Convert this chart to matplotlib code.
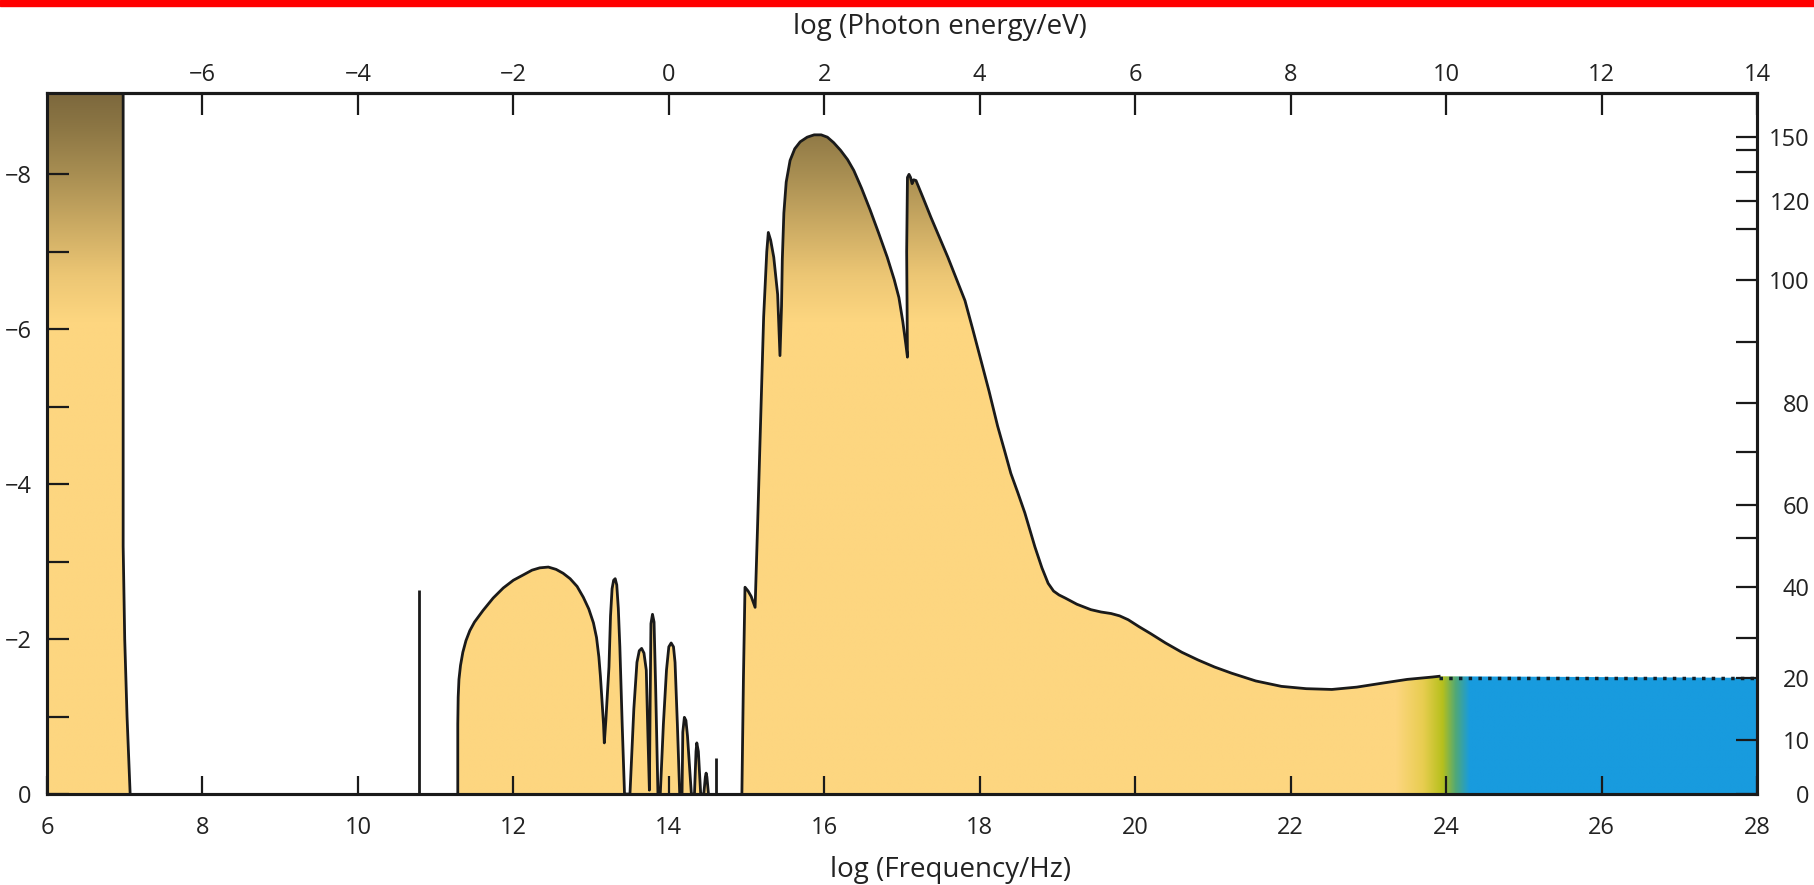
import numpy as np
import matplotlib
matplotlib.use('Agg')
import matplotlib.pyplot as plt
from matplotlib.path import Path
from matplotlib.patches import PathPatch, Rectangle

plt.rcParams['font.family'] = ['Open Sans', 'DejaVu Sans']

# low-frequency block (its right edge; left edge is the axis)
radio_x = [6.98, 6.98, 7.00, 7.03, 7.07]
radio_y = [9.6, 3.2, 2.0, 1.0, 0.0]

# broad hump + comb of narrow peaks
ir_x = [11.285, 11.285, 11.29, 11.30, 11.32, 11.35, 11.39, 11.44, 11.50, 11.61, 11.74, 11.87,
        12.00, 12.13, 12.24, 12.34, 12.45, 12.55, 12.64, 12.73, 12.82, 12.90, 12.97, 13.03,
        13.07, 13.10, 13.12, 13.14, 13.16, 13.17,
        13.19, 13.21, 13.23, 13.25, 13.27, 13.29, 13.31, 13.33, 13.35, 13.37, 13.40, 13.43,
        13.50, 13.55, 13.59, 13.62, 13.65, 13.68, 13.71, 13.73, 13.75,
        13.76, 13.77, 13.79, 13.81, 13.83, 13.86,
        13.89, 13.93, 13.97, 14.00, 14.03, 14.06, 14.08, 14.11, 14.14,
        14.17, 14.18, 14.20, 14.22, 14.24, 14.29,
        14.33, 14.35, 14.36, 14.38, 14.41,
        14.45, 14.47, 14.48, 14.49, 14.51]
ir_y = [0.00, 0.90, 1.25, 1.48, 1.66, 1.83, 1.98, 2.11, 2.22, 2.37, 2.53, 2.66,
        2.76, 2.83, 2.89, 2.92, 2.93, 2.90, 2.85, 2.78, 2.68, 2.54, 2.39, 2.21,
        2.02, 1.77, 1.52, 1.21, 0.90, 0.66,
        0.95, 1.30, 1.64, 2.30, 2.65, 2.76, 2.78, 2.70, 2.40, 1.90, 0.90, 0.00,
        0.00, 1.10, 1.70, 1.85, 1.88, 1.82, 1.60, 0.80, 0.05,
        1.20, 2.20, 2.32, 2.22, 1.40, 0.00,
        0.00, 0.90, 1.60, 1.90, 1.95, 1.90, 1.70, 0.90, 0.00,
        0.00, 0.80, 0.99, 0.95, 0.75, 0.00,
        0.00, 0.55, 0.66, 0.55, 0.00,
        0.00, 0.22, 0.27, 0.22, 0.00]

# uv / x-ray / gamma part
uv_x = [14.94, 14.96, 14.98, 15.02, 15.06, 15.11, 15.14, 15.17, 15.22, 15.26, 15.28, 15.31,
        15.35, 15.40, 15.43, 15.45, 15.46, 15.48, 15.51, 15.56, 15.62, 15.69, 15.78, 15.87,
        15.96, 16.04, 16.12, 16.21, 16.30, 16.38, 16.48, 16.59, 16.70, 16.81, 16.90, 16.96,
        17.01, 17.05, 17.07, 17.06, 17.07, 17.09, 17.11, 17.13, 17.15, 17.18, 17.27, 17.37,
        17.48, 17.59, 17.70, 17.81, 17.91, 18.01, 18.12, 18.23, 18.32, 18.40, 18.49, 18.58,
        18.71, 18.80, 18.88, 18.95, 19.02, 19.10, 19.25, 19.43, 19.56, 19.69, 19.80, 19.91,
        20.05, 20.20, 20.39, 20.60, 20.81, 21.02, 21.24, 21.55, 21.88, 22.20, 22.53, 22.85,
        23.17, 23.50, 23.82, 23.91]
uv_y = [0.00, 1.50, 2.67, 2.62, 2.55, 2.41, 3.40, 4.44, 6.16, 7.00, 7.25, 7.15,
        6.93, 6.45, 5.66, 6.30, 6.90, 7.50, 7.90, 8.18, 8.33, 8.42, 8.48, 8.51,
        8.51, 8.48, 8.41, 8.31, 8.19, 8.05, 7.82, 7.54, 7.24, 6.93, 6.64, 6.41,
        6.10, 5.80, 5.64, 7.00, 7.96, 8.00, 7.96, 7.88, 7.93, 7.92, 7.70, 7.45,
        7.19, 6.93, 6.65, 6.37, 6.00, 5.62, 5.20, 4.75, 4.43, 4.14, 3.89, 3.63,
        3.19, 2.92, 2.72, 2.62, 2.57, 2.53, 2.45, 2.38, 2.35, 2.33, 2.30, 2.25,
        2.16, 2.07, 1.95, 1.83, 1.73, 1.64, 1.56, 1.46, 1.39, 1.36, 1.35, 1.38,
        1.43, 1.48, 1.51, 1.52]

# isolated thin lines
spike_x = [10.78, 14.61]
spike_h = [2.63, 0.46]

gamma_level = 1.5

bottom_ticks = list(range(6, 29, 2))
top_ticks = list(range(-6, 15, 2))
left_ticks = [0, 2, 4, 6, 8]
left_minor = [1, 3, 5, 7]
left_labels = ['0', '\u22122', '\u22124', '\u22126', '\u22128']
# right-hand scale: value -> height in left-axis units
right_vals = [0, 10, 20, 30, 40, 50, 60, 70, 80, 90, 100, 110, 120, 130, 140, 150]
right_pos = [0.0, 0.70, 1.50, 2.01, 2.67, 3.30, 3.73, 4.41, 5.05, 5.83, 6.63, 7.30, 7.66, 8.03, 8.31, 8.48]
right_labeled = [0, 10, 20, 40, 60, 80, 100, 120, 150]

YTOP = 9.05
ink = '#1a1a1a'
txt = '#222222'

fig = plt.figure(figsize=(18.14, 8.85), dpi=100)
fig.add_artist(Rectangle((0, 1 - 6 / 885), 1, 6 / 885, transform=fig.transFigure,
                         color='#ff0000', zorder=0))
ax = fig.add_axes([0.0259, 0.1028, 0.9427, 0.7921])

# fill colours: brown at the top fading to yellow, yellow -> green -> blue at the gamma end
nx, ny = 1400, 600
xs = np.linspace(6, 28, nx)
ys = np.linspace(0, YTOP, ny)
v_stops = [0, 6.1, 6.7, 7.3, 8.0, 8.6, 9.1]
v_cols = np.array([[253, 214, 128], [253, 214, 128], [236, 198, 116], [205, 172, 100],
                   [168, 142, 82], [140, 118, 68], [122, 102, 60]]) / 255
h_stops = [6, 23.35, 23.7, 23.95, 24.12, 24.3, 28]
h_cols = np.array([[253, 214, 128], [253, 214, 128], [232, 205, 80], [182, 192, 28],
                   [80, 168, 120], [24, 155, 222], [24, 155, 222]]) / 255
vcol = np.stack([np.interp(ys, v_stops, v_cols[:, c]) for c in range(3)], axis=-1)
hcol = np.stack([np.interp(xs, h_stops, h_cols[:, c]) for c in range(3)], axis=-1)
img = np.where(xs[None, :, None] > 23.35, hcol[None, :, :], vcol[:, None, :])


def poly(pts):
    return Path(pts + [pts[0]], [Path.MOVETO] + [Path.LINETO] * (len(pts) - 1) + [Path.CLOSEPOLY])


p_radio = poly([(6, 0), (6, radio_y[0])] + list(zip(radio_x, radio_y)))
p_ir = poly([(ir_x[0], 0)] + list(zip(ir_x, ir_y)) + [(ir_x[-1], 0)])
p_uv = poly(list(zip(uv_x, uv_y)) + [(28, gamma_level), (28, 0)])
clip = PathPatch(Path.make_compound_path(p_radio, p_ir, p_uv), transform=ax.transData,
                 facecolor='none', edgecolor='none')
ax.add_patch(clip)
im = ax.imshow(img, extent=[6, 28, 0, YTOP], origin='lower', aspect='auto',
               interpolation='bilinear', zorder=1)
im.set_clip_path(clip)

lw = 2.0
ax.plot(radio_x, radio_y, color=ink, lw=lw, zorder=3)
ax.plot(ir_x, ir_y, color=ink, lw=lw, zorder=3, solid_joinstyle='round')
ax.plot(uv_x, uv_y, color=ink, lw=lw, zorder=3, solid_joinstyle='round')
ax.vlines(spike_x, 0, spike_h, color=ink, lw=lw, zorder=3)
ax.plot([uv_x[-1], 28], [gamma_level, gamma_level], color='#10202a', lw=2.5,
        ls=(0, (1, 1.8)), zorder=3)

ax.set_xlim(6, 28)
ax.set_ylim(0, YTOP)

for s in ax.spines.values():
    s.set_linewidth(2.2)
    s.set_color(ink)

ax.set_xticks(bottom_ticks)
ax.set_xticklabels([str(t) for t in bottom_ticks])
ax.set_yticks(left_ticks)
ax.set_yticklabels(left_labels)
ax.set_yticks(left_minor, minor=True)
ax.tick_params(axis='x', direction='in', length=13, width=1.6, pad=16, labelsize=17,
               labelcolor=txt, color=ink)
ax.tick_params(axis='y', which='both', direction='in', length=16, width=1.6, pad=11,
               labelsize=17, labelcolor=txt, color=ink)

secx = ax.secondary_xaxis('top', functions=(lambda x: x - 14, lambda x: x + 14))
secx.set_xticks(top_ticks)
secx.set_xticklabels([str(t).replace('-', '\u2212') for t in top_ticks])
secx.tick_params(direction='in', length=16, width=1.6, pad=4, labelsize=17,
                 labelcolor=txt, color=ink)
secx.spines['top'].set_linewidth(2.2)

# right-hand axis: ticks placed through the right-hand scale table
ax2 = ax.twinx()
ax2.set_ylim(0, YTOP)
ax2.set_yticks(np.interp(right_labeled, right_vals, right_pos))
ax2.set_yticklabels([str(v) for v in right_labeled])
ax2.set_yticks(np.interp([v for v in right_vals if v not in right_labeled], right_vals, right_pos),
               minor=True)
ax2.tick_params(which='both', direction='in', length=15, width=1.6, pad=38, labelsize=17,
                labelcolor=txt, color=ink)
for s in ax2.spines.values():
    s.set_linewidth(2.2)
    s.set_color(ink)
for t in ax2.get_yticklabels():
    t.set_horizontalalignment('right')

fig.text(0.518, 0.9695, 'log (Photon energy/eV)', ha='center', va='center', fontsize=20,
         color=txt)
fig.text(0.524, 0.017, 'log (Frequency/Hz)', ha='center', va='center', fontsize=20,
         color=txt)

fig.savefig('out.png', dpi=100)
